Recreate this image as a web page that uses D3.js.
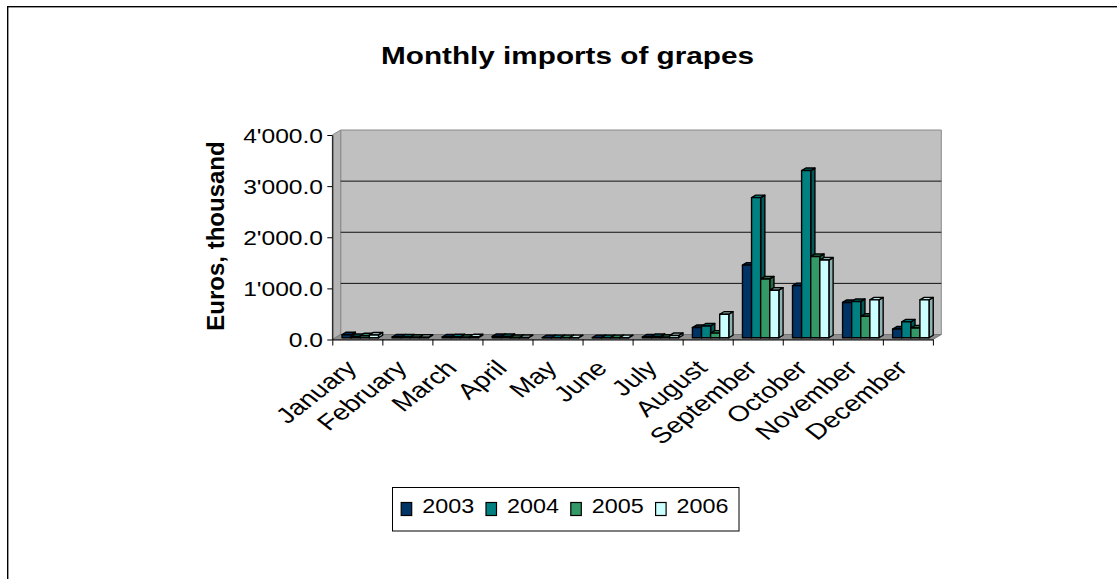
<!DOCTYPE html>
<html>
<head>
<meta charset="utf-8">
<script src="https://cdn.jsdelivr.net/npm/d3@7"></script>
<style>
  html, body { margin: 0; padding: 0; background: #fff; }
  svg text { font-family: "Liberation Sans", Arial, Helvetica, sans-serif; fill: #000; }
</style>
</head>
<body>
<svg id="chart" width="1117" height="579"></svg>
<script>
// ---- data -------------------------------------------------------------
const months = ["January", "February", "March", "April", "May", "June",
                "July", "August", "September", "October", "November", "December"];
const years = ["2003", "2004", "2005", "2006"];
const imports2003 = [60, 15, 15, 25, 3, 3, 15, 200, 1420, 1020, 690, 170];
const imports2004 = [25, 15, 20, 25, 3, 3, 25, 230, 2740, 3270, 710, 310];
const imports2005 = [40, 10, 10, 5, 3, 3, 10, 90, 1150, 1590, 420, 190];
const imports2006 = [55, 10, 20, 5, 3, 3, 45, 460, 930, 1520, 740, 740];
const yTickValues = [0, 1000, 2000, 3000, 4000];
const chartTitle = "Monthly imports of grapes";
const yAxisTitle = "Euros, thousand";

const seriesValues = [imports2003, imports2004, imports2005, imports2006];
const seriesColors = ["#003366", "#008080", "#339966", "#CCFFFF"];

// ---- layout ------------------------------------------------------------
const svg = d3.select("#chart");
const floorX0 = 332.3, floorX1 = 932.9;   // front edge of the floor
const depth = { dx: 8.4, dy: -5 };        // full depth of the 3-D box
const barFront = 0.35, barDepth = 0.5;    // bar placement inside the depth
const textStretch = 1.28;                 // horizontal stretch of the label glyphs

const x = d3.scaleBand().domain(months).range([floorX0, floorX1]);
const y = d3.scaleLinear().domain([0, 4000]).range([339.5, 135]);

const fmtLocale = d3.formatLocale({ decimal: ".", thousands: "'", grouping: [3], currency: ["", ""] });
const fmt = fmtLocale.format(",.1f");

// outer chart border
svg.append("rect")
  .attr("x", 7.7).attr("y", 6.7)
  .attr("width", 1200).attr("height", 700)
  .attr("fill", "none").attr("stroke", "#000").attr("stroke-width", 1.4);

// title
svg.append("text")
  .attr("x", 381).attr("y", 64)
  .attr("font-size", 23.5).attr("font-weight", "bold")
  .attr("textLength", 373).attr("lengthAdjust", "spacingAndGlyphs")
  .text(chartTitle);

// ---- 3-D walls ----------------------------------------------------------
const walls = svg.append("g");
const yTop = y(4000), yBase = y(0);
const pts = a => a.map(p => p.join(",")).join(" ");

// back wall
walls.append("polygon")
  .attr("points", pts([[floorX0 + depth.dx, yTop + depth.dy], [floorX1 + depth.dx, yTop + depth.dy],
                       [floorX1 + depth.dx, yBase + depth.dy], [floorX0 + depth.dx, yBase + depth.dy]]))
  .attr("fill", "#C0C0C0").attr("stroke", "#8a8a8a").attr("stroke-width", 1);

// side wall
walls.append("polygon")
  .attr("points", pts([[floorX0, yTop], [floorX0 + depth.dx, yTop + depth.dy],
                       [floorX0 + depth.dx, yBase + depth.dy], [floorX0, yBase]]))
  .attr("fill", "#B4B4B4").attr("stroke", "#8a8a8a").attr("stroke-width", 1);

// floor
walls.append("polygon")
  .attr("points", pts([[floorX0, yBase], [floorX1, yBase],
                       [floorX1 + depth.dx, yBase + depth.dy], [floorX0 + depth.dx, yBase + depth.dy]]))
  .attr("fill", "#8E8E8E").attr("stroke", "#777").attr("stroke-width", 1);

// gridlines on the back wall
walls.selectAll("line.grid")
  .data(yTickValues.filter(v => v > 0 && v < 4000))
  .join("line")
  .attr("class", "grid")
  .attr("x1", floorX0 + depth.dx).attr("x2", floorX1 + depth.dx)
  .attr("y1", d => y(d) + depth.dy).attr("y2", d => y(d) + depth.dy)
  .attr("stroke", "#111").attr("stroke-width", 1);

// ---- bars ---------------------------------------------------------------
const bw = x.bandwidth();
const barW = bw / 5.5;
const groupOffset = (bw - 4 * barW) / 2;
const fdx = depth.dx * barFront, fdy = depth.dy * barFront;
const bdx = depth.dx * barDepth, bdy = depth.dy * barDepth;

const bars = [];
months.forEach((m, mi) => {
  seriesValues.forEach((vals, si) => {
    bars.push({ month: m, series: si, value: vals[mi] });
  });
});

const barG = svg.append("g")
  .selectAll("g.bar")
  .data(bars)
  .join("g")
  .attr("class", "bar");

barG.each(function (d) {
  const g = d3.select(this);
  const x0 = x(d.month) + groupOffset + d.series * barW + fdx;
  const x1 = x0 + barW;
  const yb = y(0) + fdy;
  const yt = y(d.value) + fdy;
  const c = d3.color(seriesColors[d.series]);
  const common = sel => sel.attr("stroke", "#000").attr("stroke-width", 1.4).attr("stroke-linejoin", "round");
  g.append("polygon")
    .attr("points", pts([[x1, yb], [x1 + bdx, yb + bdy], [x1 + bdx, yt + bdy], [x1, yt]]))
    .attr("fill", c.darker(1.0)).call(common);
  g.append("polygon")
    .attr("points", pts([[x0, yt], [x1, yt], [x1 + bdx, yt + bdy], [x0 + bdx, yt + bdy]]))
    .attr("fill", c.darker(0.25)).call(common);
  g.append("rect")
    .attr("x", x0).attr("y", yt).attr("width", barW).attr("height", yb - yt)
    .attr("fill", c).call(common);
});

// ---- axes ---------------------------------------------------------------
const yAxis = d3.axisLeft(y)
  .tickValues(yTickValues)
  .tickFormat(fmt)
  .tickSize(5)
  .tickSizeOuter(0);

const yAxisG = svg.append("g")
  .attr("transform", `translate(${floorX0},0)`)
  .call(yAxis);
yAxisG.select(".domain").attr("stroke", "#000");
yAxisG.selectAll(".tick line").attr("stroke", "#000");
yAxisG.selectAll(".tick text")
  .attr("font-family", null)
  .attr("font-size", 20.5)
  .attr("x", -7.75)
  .attr("dy", "0.36em")
  .attr("transform", "scale(1.2,1)");

// category axis: ticks at band boundaries
const idx = d3.scaleLinear().domain([0, months.length]).range([floorX0, floorX1]);
const xTickAxis = d3.axisBottom(idx)
  .tickValues(d3.range(0, months.length + 1))
  .tickFormat("")
  .tickSize(6)
  .tickSizeOuter(0);
const xAxisG = svg.append("g")
  .attr("transform", `translate(0,${y(0)})`)
  .call(xTickAxis);
xAxisG.select(".domain").attr("stroke", "#000");
xAxisG.selectAll(".tick line").attr("stroke", "#000");

// month labels, set at 45 degrees with horizontally widened glyphs
const xLabelAxis = d3.axisBottom(x).tickSize(0).tickPadding(0);
const xLabelG = svg.append("g")
  .attr("transform", `translate(0,${y(0)})`)
  .call(xLabelAxis);
xLabelG.select(".domain").remove();
xLabelG.selectAll(".tick text")
  .attr("font-family", null)
  .attr("font-size", 22)
  .attr("text-anchor", "end")
  .attr("y", 0).attr("dy", 0)
  .attr("transform", `translate(1,30) scale(${textStretch},1) rotate(-45)`);

// value axis title
svg.append("text")
  .attr("transform", "translate(223.5,236) rotate(-90)")
  .attr("text-anchor", "middle")
  .attr("font-size", 24).attr("font-weight", "bold")
  .text(yAxisTitle);

// ---- legend ---------------------------------------------------------------
const legend = svg.append("g");
legend.append("rect")
  .attr("x", 392.5).attr("y", 487.5).attr("width", 346.5).attr("height", 43.5)
  .attr("fill", "#fff").attr("stroke", "#000").attr("stroke-width", 1);
const item = legend.selectAll("g.item")
  .data(years)
  .join("g")
  .attr("class", "item")
  .attr("transform", (d, i) => `translate(${400.7 + i * 84.8},0)`);
item.append("rect")
  .attr("x", 0.5).attr("y", 502.5).attr("width", 10.5).attr("height", 13)
  .attr("fill", (d, i) => seriesColors[i]).attr("stroke", "#000").attr("stroke-width", 1.2);
item.append("text")
  .attr("x", 21.5).attr("y", 513.3)
  .attr("font-size", 20.5)
  .attr("textLength", 52).attr("lengthAdjust", "spacingAndGlyphs")
  .text(d => d);
</script>
</body>
</html>
